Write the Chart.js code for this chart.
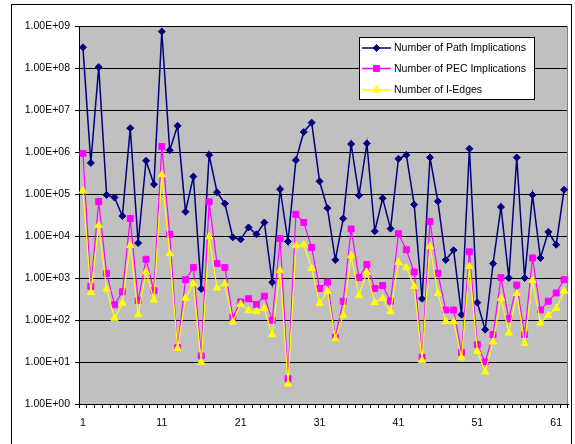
<!DOCTYPE html>
<html>
<head>
<meta charset="utf-8">
<title>Implications and I-Edges</title>
<script src="https://cdn.jsdelivr.net/npm/chart.js@4.4.0/dist/chart.umd.min.js"></script>
<style>
  html, body { margin: 0; padding: 0; background: #ffffff; }
  #wrap { position: relative; width: 575px; height: 444px; }
  canvas { display: block; }
</style>
</head>
<body>
<div id="wrap"><canvas id="chart" width="575" height="444"></canvas></div>
<script>
// Circuit index, 1..62
const categories = [
  1, 2, 3, 4, 5, 6, 7, 8, 9, 10,
  11, 12, 13, 14, 15, 16, 17, 18, 19, 20,
  21, 22, 23, 24, 25, 26, 27, 28, 29, 30,
  31, 32, 33, 34, 35, 36, 37, 38, 39, 40,
  41, 42, 43, 44, 45, 46, 47, 48, 49, 50,
  51, 52, 53, 54, 55, 56, 57, 58, 59, 60,
  61, 62
];

const pathImplications = [
  3.1e8, 5.5e5, 1.05e8, 9.5e4, 8.3e4, 3.0e4, 3.7e6, 6.8e3, 6.2e5, 1.7e5,
  7.4e8, 1.1e6, 4.2e6, 3.8e4, 2.6e5, 5.5e2, 8.5e5, 1.1e5, 5.9e4, 9.3e3,
  8.3e3, 1.6e4, 1.1e4, 2.1e4, 7.9e2, 1.3e5, 7.4e3, 6.4e5, 3.0e6, 5.0e6,
  2.0e5, 4.6e4, 2.7e3, 2.6e4, 1.55e6, 9.3e4, 1.6e6, 1.3e4, 7.9e4, 1.5e4,
  6.9e5, 8.5e5, 5.6e4, 3.2e2, 7.4e5, 6.7e4, 2.7e3, 4.6e3, 1.34e2, 1.2e6,
  2.6e2, 59, 2.2e3, 4.9e4, 1.0e3, 7.4e5, 1.0e3, 9.5e4, 3.0e3, 1.25e4,
  6.2e3, 1.26e5
];

const pecImplications = [
  9.3e5, 6.3e2, 6.6e4, 1.29e3, 2.3e2, 4.7e2, 2.6e4, 2.9e2, 2.8e3, 5.0e2,
  1.35e6, 1.1e4, 22, 9.1e2, 1.77e3, 14, 6.5e4, 2.2e3, 1.77e3, 1.15e2,
  2.7e2, 3.2e2, 2.35e2, 3.7e2, 98, 8.7e3, 4.0, 3.3e4, 2.1e4, 5.3e3,
  5.6e2, 8.0e2, 39, 2.8e2, 1.47e4, 1.02e3, 2.1e3, 5.6e2, 6.6e2, 2.8e2,
  1.13e4, 4.7e3, 1.39e3, 13, 2.2e4, 1.3e3, 1.73e2, 1.73e2, 17, 4.2e3,
  26, 10, 45, 1.02e3, 1.07e2, 6.8e2, 45, 3.0e3, 1.73e2, 2.8e2,
  4.4e2, 9.1e2
];

const iEdges = [
  1.2e5, 4.5e2, 1.8e4, 5.5e2, 1.1e2, 2.5e2, 6.0e3, 1.35e2, 1.4e3, 3.0e2,
  2.9e5, 3.8e3, 21, 3.3e2, 7.4e2, 9.8, 9.6e3, 5.8e2, 7.3e2, 90,
  2.4e2, 1.67e2, 1.58e2, 1.9e2, 45, 1.5e3, 3.0, 5.9e3, 6.2e3, 1.7e3,
  2.5e2, 4.8e2, 36, 1.3e2, 3.4e3, 3.8e2, 1.36e3, 2.6e2, 3.3e2, 1.58e2,
  2.35e3, 1.77e3, 6.3e2, 11, 5.6e3, 4.3e2, 93, 91, 12.5, 1.9e3,
  18, 5.8, 30, 3.3e2, 49, 4.3e2, 28, 8.8e2, 85, 1.3e2,
  1.9e2, 4.9e2
];

// Labelled category ticks and logarithmic decade ticks
const xTickLabels = ['1', '11', '21', '31', '41', '51', '61'];
const yTickValues = [1, 1e1, 1e2, 1e3, 1e4, 1e5, 1e6, 1e7, 1e8, 1e9];

const FONT = "'Liberation Sans', Arial, sans-serif";

function sci(v) {
  const e = Math.round(Math.log10(v));
  const m = v / Math.pow(10, e);
  return m.toFixed(2) + 'E' + (e >= 0 ? '+' : '-') + String(Math.abs(e)).padStart(2, '0');
}

const series = [
  { label: 'Number of Path Implications', data: pathImplications, color: '#000080', style: 'rectRot', radius: 3.5, order: 2 },
  { label: 'Number of PEC Implications', data: pecImplications, color: '#FF00FF', style: 'rect', radius: 4.2, order: 1 },
  { label: 'Number of I-Edges', data: iEdges, color: '#FFFF00', style: 'triangle', radius: 4.2, order: 0 }
];

function drawMarker(ctx, style, x, y, r, color) {
  ctx.save();
  ctx.fillStyle = color;
  ctx.strokeStyle = color;
  ctx.lineWidth = 1;
  ctx.beginPath();
  if (style === 'rectRot') {
    ctx.moveTo(x - r, y); ctx.lineTo(x, y - r); ctx.lineTo(x + r, y); ctx.lineTo(x, y + r);
  } else if (style === 'rect') {
    const s = r * Math.SQRT1_2;
    ctx.rect(x - s, y - s, 2 * s, 2 * s);
  } else {
    for (let k = 0; k < 3; k++) {
      const a = k * 2 * Math.PI / 3;
      const px = x + Math.sin(a) * r, py = y - Math.cos(a) * r;
      if (k === 0) ctx.moveTo(px, py); else ctx.lineTo(px, py);
    }
  }
  ctx.closePath();
  ctx.fill();
  ctx.stroke();
  ctx.restore();
}

const plotFrame = {
  id: 'plotFrame',
  beforeDraw(chart) {
    const { ctx, chartArea: a } = chart;
    ctx.save();
    ctx.fillStyle = '#C0C0C0';
    ctx.fillRect(a.left, a.top, a.right - a.left, a.bottom - a.top);
    ctx.restore();
  },
  beforeDatasetsDraw(chart) {
    const { ctx, chartArea: a } = chart;
    ctx.save();
    ctx.strokeStyle = '#808080';
    ctx.lineWidth = 1;
    ctx.beginPath();
    ctx.moveTo(Math.round(a.right) - 0.5, a.top);
    ctx.lineTo(Math.round(a.right) - 0.5, a.bottom);
    ctx.stroke();
    ctx.restore();
  },
  afterDraw(chart) {
    const { ctx } = chart;
    ctx.save();
    // outer chart border
    ctx.strokeStyle = '#000000';
    ctx.lineWidth = 1;
    ctx.strokeRect(11.5, 4.5, 560, 460);

    // legend box
    const bx = 359.5, by = 37.5, bw = 175, bh = 62;
    ctx.fillStyle = '#ffffff';
    ctx.fillRect(bx, by, bw, bh);
    ctx.strokeRect(bx, by, bw, bh);
    ctx.font = '10.5px ' + FONT;
    ctx.textBaseline = 'middle';
    ctx.textAlign = 'left';
    const rows = [48, 68.5, 90];
    series.forEach((s, i) => {
      const y = rows[i];
      ctx.strokeStyle = s.color;
      ctx.lineWidth = 1.5;
      ctx.beginPath();
      ctx.moveTo(362, y);
      ctx.lineTo(391, y);
      ctx.stroke();
      drawMarker(ctx, s.style, 376.5, y, s.radius, s.color);
      ctx.fillStyle = '#000000';
      ctx.fillText(s.label, 394, y + 0.5);
    });
    ctx.restore();
  }
};

new Chart(document.getElementById('chart'), {
  type: 'line',
  data: {
    labels: categories,
    datasets: series.map(s => ({
      label: s.label,
      data: s.data,
      borderColor: s.color,
      backgroundColor: s.color,
      borderWidth: s.style === 'rectRot' ? 1.5 : 1.2,
      pointStyle: s.style,
      pointRadius: s.radius,
      pointBorderWidth: 1,
      pointBorderColor: s.color,
      pointBackgroundColor: s.color,
      tension: 0,
      fill: false,
      order: s.order
    }))
  },
  options: {
    responsive: false,
    animation: false,
    devicePixelRatio: 1,
    layout: { padding: { left: 0, top: 26, right: 7, bottom: 0 } },
    plugins: {
      legend: { display: false },
      tooltip: { enabled: false }
    },
    scales: {
      x: {
        type: 'category',
        offset: true,
        afterFit(scale) { scale.height = 40; },
        grid: {
          offset: true,
          drawOnChartArea: false,
          drawTicks: true,
          tickLength: 4,
          color: '#000000'
        },
        border: { display: true, color: '#000000' },
        ticks: {
          autoSkip: false,
          maxRotation: 0,
          minRotation: 0,
          padding: 9,
          color: '#000000',
          font: { family: FONT, size: 10.5 },
          callback(value, index) {
            return index % 10 === 0 ? xTickLabels[index / 10] : '';
          }
        }
      },
      y: {
        type: 'logarithmic',
        min: 1,
        max: 1e9,
        afterFit(scale) { scale.width = 79; },
        afterBuildTicks(scale) {
          scale.ticks = yTickValues.map(v => ({ value: v }));
        },
        grid: {
          color: '#000000',
          lineWidth: 1,
          drawTicks: true,
          tickLength: 4
        },
        border: { display: true, color: '#000000' },
        ticks: {
          padding: 5,
          color: '#000000',
          font: { family: FONT, size: 10.5 },
          callback(value) { return sci(value); }
        }
      }
    }
  },
  plugins: [plotFrame]
});
</script>
</body>
</html>
